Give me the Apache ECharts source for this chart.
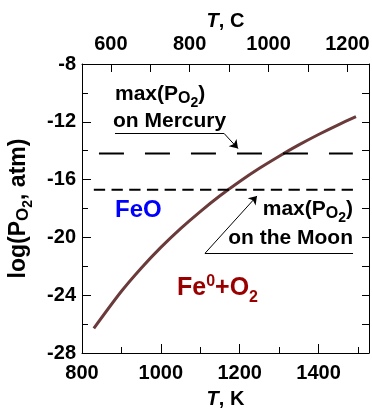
<!DOCTYPE html>
<html>
<head>
<meta charset="utf-8">
<script src="https://cdn.jsdelivr.net/npm/echarts@6/dist/echarts.min.js"></script>
<style>
html,body{margin:0;padding:0;background:#fff;}
#chart{width:372px;height:410px;}
</style>
</head>
<body>
<div id="chart"></div>
<script>
// ---- data ----
const tempK = [830, 900, 950, 1000, 1050, 1100, 1150, 1200, 1250, 1300, 1350, 1400, 1450, 1495];
const logPO2 = [-26.3, -23.73, -22.13, -20.69, -19.39, -18.21, -17.12, -16.13, -15.22, -14.38, -13.6, -12.88, -12.21, -11.65];
const mercuryT = [843, 1487];
const mercuryLog = -14.2;
const moonT = [830, 1497];
const moonLog = -16.7;
const kelvinMajorTicks = [800, 1000, 1200, 1400];
const kelvinMinorTicks = [900, 1100, 1300, 1500];
const celsiusTicks = [600, 700, 800, 900, 1000, 1100, 1200];
const celsiusLabels = [600, 800, 1000, 1200];
const mercuryLeader = [[883.7, -12.8], [1160.2, -12.8], [1195.7, -13.85]];
const moonLeader = [[1487.5, -21.1], [1112, -21.1], [1243.9, -17.13]];

const FONT = 'Liberation Sans, Arial, sans-serif';
const xMin = 800, xMax = 1528;

const chart = echarts.init(document.getElementById('chart'), null, {renderer: 'canvas'});

const baseX = {
  type: 'value', min: xMin, max: xMax, splitLine: {show: false}
};
const tickLine = {color: '#000', width: 1};

const option = {
  backgroundColor: '#fff',
  animation: false,
  grid: {left: 82, right: 3, top: 64, bottom: 57, containLabel: false, outerBoundsMode: 'none'},
  xAxis: [
    Object.assign({}, baseX, {
      position: 'bottom',
      name: '{i|T}{n|, K}',
      nameLocation: 'middle', nameGap: 36,
      nameTextStyle: {rich: {
        i: {fontFamily: FONT, fontSize: 20, fontWeight: 'bold', fontStyle: 'italic', color: '#000'},
        n: {fontFamily: FONT, fontSize: 20, fontWeight: 'bold', color: '#000'}
      }},
      axisLine: {show: true, lineStyle: tickLine},
      axisTick: {show: true, inside: true, length: 9, customValues: kelvinMajorTicks, lineStyle: tickLine},
      axisLabel: {show: true, customValues: kelvinMajorTicks, margin: 10,
        formatter: v => String(v),
        fontFamily: FONT, fontSize: 20, fontWeight: 'bold', color: '#000'}
    }),
    Object.assign({}, baseX, {
      position: 'bottom',
      axisLine: {show: false},
      axisTick: {show: true, inside: true, length: 6, customValues: kelvinMinorTicks, lineStyle: tickLine},
      axisLabel: {show: false}
    }),
    Object.assign({}, baseX, {
      position: 'top',
      name: '{i|T}{n|, C}',
      nameLocation: 'middle', nameGap: 43, nameMoveOverlap: false,
      nameTextStyle: {verticalAlign: 'middle', rich: {
        i: {fontFamily: FONT, fontSize: 20, fontWeight: 'bold', fontStyle: 'italic', color: '#000'},
        n: {fontFamily: FONT, fontSize: 20, fontWeight: 'bold', color: '#000'}
      }},
      axisLine: {show: true, lineStyle: tickLine},
      axisTick: {show: true, inside: true, length: 8, customValues: celsiusTicks.map(c => c + 273.15), lineStyle: tickLine},
      axisLabel: {show: true, customValues: celsiusLabels.map(c => c + 273.15), margin: 10,
        formatter: v => String(Math.round(v - 273.15)),
        fontFamily: FONT, fontSize: 20, fontWeight: 'bold', color: '#000'}
    })
  ],
  yAxis: [
    {
      type: 'value', position: 'left', min: -28, max: -8, interval: 4,
      splitLine: {show: false},
      name: '{m|log(P}{s|O}{ss|2}{m|, atm)}',
      nameLocation: 'middle', nameGap: 47, nameRotate: 90,
      nameTextStyle: {rich: {
        m: {fontFamily: FONT, fontSize: 23, fontWeight: 'bold', color: '#000', verticalAlign: 'top'},
        s: {fontFamily: FONT, fontSize: 17, fontWeight: 'bold', color: '#000', verticalAlign: 'top', padding: [8, 0, 0, 0]},
        ss: {fontFamily: FONT, fontSize: 14, fontWeight: 'bold', color: '#000', verticalAlign: 'top', padding: [14, 0, 0, 0]}
      }},
      axisLine: {show: true, lineStyle: tickLine},
      axisTick: {show: true, inside: true, length: 9, lineStyle: tickLine},
      axisLabel: {show: true, margin: 6, fontFamily: FONT, fontSize: 20, fontWeight: 'bold', color: '#000'}
    },
    {
      type: 'value', position: 'left', min: -28, max: -8, interval: 2,
      splitLine: {show: false},
      axisLine: {show: false},
      axisTick: {show: true, inside: true, length: 6, lineStyle: tickLine},
      axisLabel: {show: false}
    },
    {
      type: 'value', position: 'right', min: -28, max: -8, interval: 2,
      splitLine: {show: false},
      axisLine: {show: true, lineStyle: tickLine},
      axisTick: {show: true, inside: true, length: 7, lineStyle: tickLine},
      axisLabel: {show: false}
    }
  ],
  series: [
    {
      type: 'line', xAxisIndex: 0, yAxisIndex: 0,
      data: tempK.map((t, i) => [t, logPO2[i]]),
      smooth: 0.3, showSymbol: false,
      lineStyle: {color: '#6b3a3a', width: 3}
    },
    {
      type: 'line', xAxisIndex: 0, yAxisIndex: 0,
      data: mercuryT.map(t => [t, mercuryLog]),
      showSymbol: false,
      lineStyle: {color: '#000', width: 2, type: [25, 21]},
      markLine: {
        silent: true, animation: false,
        symbol: ['none', 'arrow'], symbolSize: 8,
        label: {show: false},
        lineStyle: {color: '#000', width: 1, type: 'solid'},
        data: [
          [{coord: mercuryLeader[0], symbol: 'none'}, {coord: mercuryLeader[1], symbol: 'none'}],
          [{coord: mercuryLeader[1], symbol: 'none'}, {coord: mercuryLeader[2], symbol: 'arrow'}],
          [{coord: moonLeader[0], symbol: 'none'}, {coord: moonLeader[1], symbol: 'none'}],
          [{coord: moonLeader[1], symbol: 'none'}, {coord: moonLeader[2], symbol: 'arrow'}]
        ]
      }
    },
    {
      type: 'line', xAxisIndex: 0, yAxisIndex: 0,
      data: moonT.map(t => [t, moonLog]),
      showSymbol: false,
      lineStyle: {color: '#000', width: 2, type: [11.3, 6.4]}
    }
  ],
  graphic: [
    {
      type: 'text', left: 115, top: 84,
      style: {
        text: '{m|max(P}{s|O}{ss|2}{m|)}',
        rich: {
          m: {fontFamily: FONT, fontSize: 21, fontWeight: 'bold', fill: '#000', verticalAlign: 'top'},
          s: {fontFamily: FONT, fontSize: 16, fontWeight: 'bold', fill: '#000', verticalAlign: 'top', padding: [7, 0, 0, 0]},
          ss: {fontFamily: FONT, fontSize: 14, fontWeight: 'bold', fill: '#000', verticalAlign: 'top', padding: [12, 0, 0, 0]}
        }
      }
    },
    {
      type: 'text', left: 113, top: 111,
      style: {text: 'on Mercury', font: 'bold 21px ' + FONT, fill: '#000'}
    },
    {
      type: 'text', right: 19, top: 199,
      style: {
        text: '{m|max(P}{s|O}{ss|2}{m|)}',
        rich: {
          m: {fontFamily: FONT, fontSize: 21, fontWeight: 'bold', fill: '#000', verticalAlign: 'top'},
          s: {fontFamily: FONT, fontSize: 16, fontWeight: 'bold', fill: '#000', verticalAlign: 'top', padding: [7, 0, 0, 0]},
          ss: {fontFamily: FONT, fontSize: 14, fontWeight: 'bold', fill: '#000', verticalAlign: 'top', padding: [12, 0, 0, 0]}
        }
      }
    },
    {
      type: 'text', right: 19, top: 228,
      style: {text: 'on the Moon', font: 'bold 21px ' + FONT, fill: '#000'}
    },
    {
      type: 'text', left: 115, top: 198,
      style: {text: 'FeO', font: 'bold 24px ' + FONT, fill: '#0000ff'}
    },
    {
      type: 'text', left: 177, top: 274,
      style: {
        text: '{m|Fe}{sup|0}{m|+O}{sub|2}',
        rich: {
          m: {fontFamily: FONT, fontSize: 25, fontWeight: 'bold', fill: '#990000', verticalAlign: 'top', padding: [2, 0, 0, 0]},
          sup: {fontFamily: FONT, fontSize: 16, fontWeight: 'bold', fill: '#990000', verticalAlign: 'top', padding: [0, 0, 0, 0]},
          sub: {fontFamily: FONT, fontSize: 16, fontWeight: 'bold', fill: '#990000', verticalAlign: 'top', padding: [16, 0, 0, 0]}
        }
      }
    }
  ]
};
chart.setOption(option);
</script>
</body>
</html>
